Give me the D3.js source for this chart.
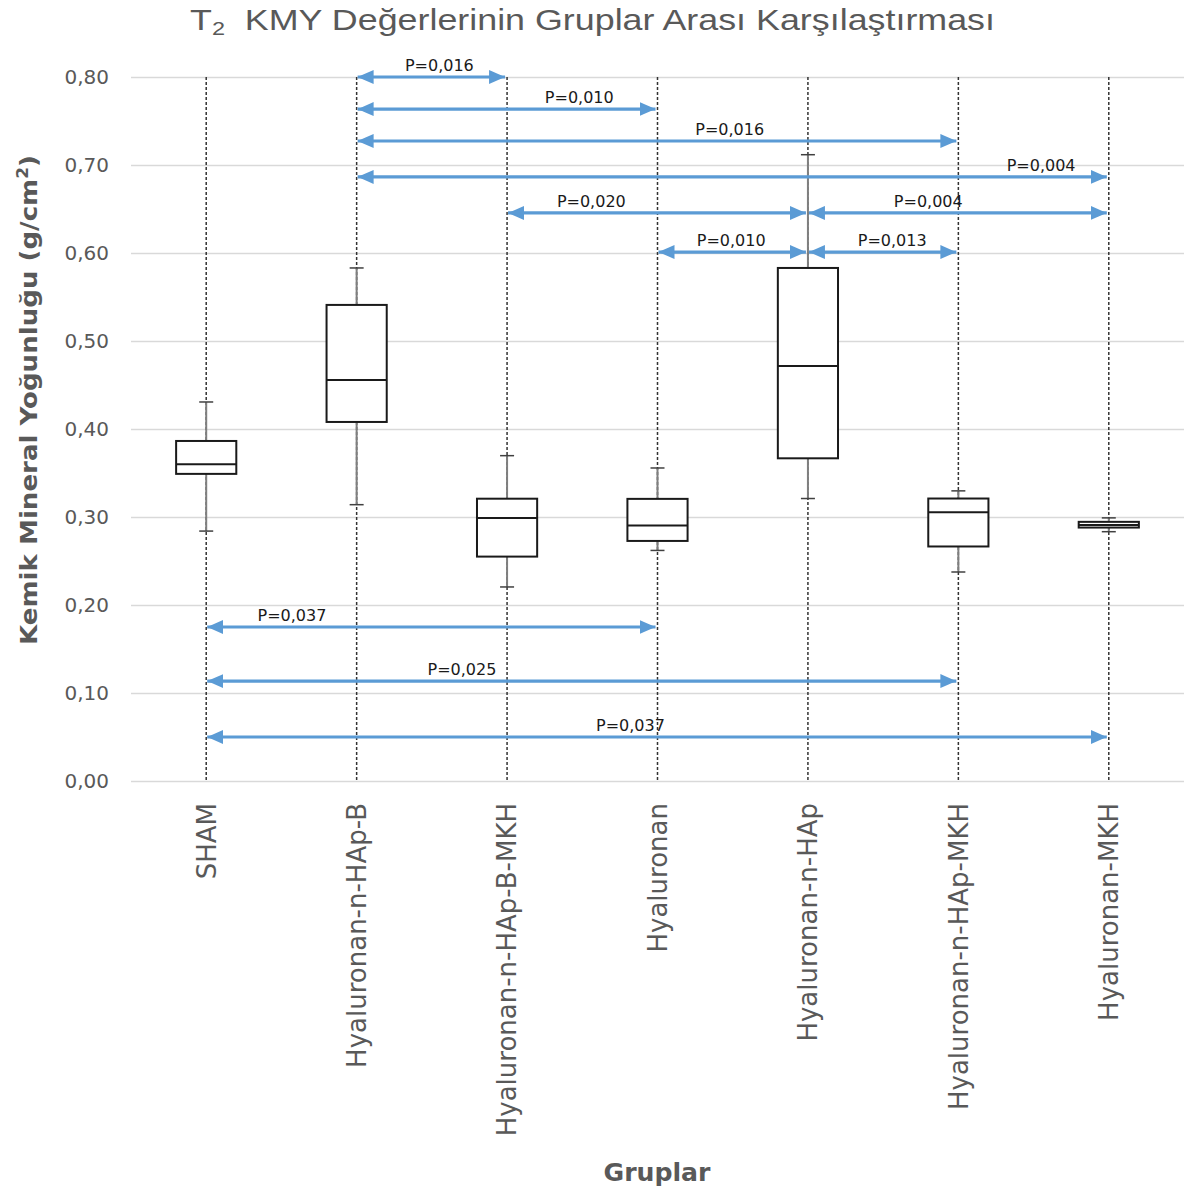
<!DOCTYPE html>
<html>
<head>
<meta charset="utf-8">
<script src="https://cdn.jsdelivr.net/npm/d3@7"></script>
<style>
  html, body { margin: 0; padding: 0; background: #fff; }
  svg { display: block; }
</style>
</head>
<body>
<svg id="chart" width="1189" height="1195"></svg>
<script>
// ---------- data ----------
const categories = ["SHAM", "Hyaluronan-n-HAp-B", "Hyaluronan-n-HAp-B-MKH", "Hyaluronan",
                    "Hyaluronan-n-HAp", "Hyaluronan-n-HAp-MKH", "Hyaluronan-MKH"];
const whiskerLow  = [0.284, 0.314, 0.2205, 0.262, 0.321, 0.2375, 0.2833];
const q1          = [0.349, 0.408, 0.255, 0.2728, 0.3667, 0.2665, 0.288];
const median      = [0.360, 0.4557, 0.299, 0.2903, 0.4716, 0.3053, 0.291];
const q3          = [0.3864, 0.541, 0.3208, 0.3206, 0.583, 0.321, 0.2945];
const whiskerHigh = [0.4307, 0.583, 0.3697, 0.3557, 0.7117, 0.3297, 0.299];

const yTicks = [0, 0.1, 0.2, 0.3, 0.4, 0.5, 0.6, 0.7, 0.8];

// pairwise comparisons (indices into categories)
const compFrom  = [1, 1, 1, 1, 2, 4, 3, 4, 0, 0, 0];
const compTo    = [2, 3, 5, 6, 4, 6, 4, 5, 3, 5, 6];
const compY     = [0.800, 0.7636, 0.7273, 0.6864, 0.6455, 0.6455, 0.6011, 0.6011, 0.175, 0.1136, 0.05];
const compLabel = ["P=0,016", "P=0,010", "P=0,016", "P=0,004", "P=0,020", "P=0,004",
                   "P=0,010", "P=0,013", "P=0,037", "P=0,025", "P=0,037"];
const compLabelAt = [0.55, 0.74, 0.62, 0.91, 0.28, 0.40, 0.49, 0.56, 0.19, 0.34, 0.47];

// ---------- layout ----------
const svg = d3.select("#chart");
const W = 1189, H = 1195;
const mLeft = 131, mRight = 1184, mTop = 77, mBottom = 781;
const textGray = "#595959";
const blue = "#5B9BD5";

svg.append("rect").attr("width", W).attr("height", H).attr("fill", "#fff");

const x = d3.scaleBand().domain(categories).range([mLeft, mRight]).padding(0);
const y = d3.scaleLinear().domain([0, 0.8]).range([mBottom, mTop]);
const cx = i => x(categories[i]) + x.bandwidth() / 2;
const boxW = x.bandwidth() * 0.4;

// y axis + gridlines
const yAxis = d3.axisLeft(y)
  .tickValues(yTicks)
  .tickSize(-(mRight - mLeft))
  .tickPadding(22)
  .tickFormat(d => d3.format(".2f")(d).replace(".", ","));
const gy = svg.append("g").attr("transform", `translate(${mLeft},0)`).call(yAxis);
gy.select(".domain").remove();
gy.selectAll(".tick line").attr("stroke", "#d9d9d9").attr("stroke-width", 1.3);
gy.selectAll(".tick text")
  .attr("fill", textGray)
  .attr("font-family", "'DejaVu Sans', Verdana, sans-serif")
  .attr("font-size", 20);

// dashed vertical lines through each category
svg.append("g").selectAll("line").data(categories).join("line")
  .attr("x1", (d, i) => cx(i)).attr("x2", (d, i) => cx(i))
  .attr("y1", y(0.8)).attr("y2", y(0))
  .attr("stroke", "#333").attr("stroke-width", 1.5)
  .attr("stroke-dasharray", "3,2");

// boxes
const gb = svg.append("g");
categories.forEach((c, i) => {
  const xc = cx(i);
  gb.append("line").attr("x1", xc).attr("x2", xc)
    .attr("y1", y(q3[i])).attr("y2", y(whiskerHigh[i]))
    .attr("stroke", "#7f7f7f").attr("stroke-width", 2);
  gb.append("line").attr("x1", xc).attr("x2", xc)
    .attr("y1", y(q1[i])).attr("y2", y(whiskerLow[i]))
    .attr("stroke", "#7f7f7f").attr("stroke-width", 2);
  [whiskerHigh[i], whiskerLow[i]].forEach(v => {
    gb.append("line").attr("x1", xc - 7).attr("x2", xc + 7)
      .attr("y1", y(v)).attr("y2", y(v))
      .attr("stroke", "#404040").attr("stroke-width", 1.5);
  });
  gb.append("rect")
    .attr("x", xc - boxW / 2).attr("width", boxW)
    .attr("y", y(q3[i])).attr("height", y(q1[i]) - y(q3[i]))
    .attr("fill", "#fff").attr("stroke", "#1a1a1a").attr("stroke-width", 2);
  gb.append("line")
    .attr("x1", xc - boxW / 2).attr("x2", xc + boxW / 2)
    .attr("y1", y(median[i])).attr("y2", y(median[i]))
    .attr("stroke", "#1a1a1a").attr("stroke-width", 2);
});

// arrows
const defs = svg.append("defs");
defs.append("marker").attr("id", "ah").attr("viewBox", "0 0 16 14")
  .attr("refX", 16).attr("refY", 7).attr("markerWidth", 16).attr("markerHeight", 14)
  .attr("markerUnits", "userSpaceOnUse").attr("orient", "auto-start-reverse")
  .append("path").attr("d", "M0,0 L16,7 L0,14 Z").attr("fill", blue);

const ga = svg.append("g");
compFrom.forEach((f, k) => {
  const x1 = cx(f) + 1, x2 = cx(compTo[k]) - 2, yy = y(compY[k]);
  ga.append("line").attr("x1", x1).attr("x2", x2).attr("y1", yy).attr("y2", yy)
    .attr("stroke", blue).attr("stroke-width", 3.2)
    .attr("marker-start", "url(#ah)").attr("marker-end", "url(#ah)");
});
compFrom.forEach((f, k) => {
  const x1 = cx(f), x2 = cx(compTo[k]), yy = y(compY[k]);
  ga.append("text")
    .attr("x", x1 + (x2 - x1) * compLabelAt[k]).attr("y", yy - 6)
    .attr("text-anchor", "middle")
    .attr("font-family", "'DejaVu Sans', Tahoma, sans-serif")
    .attr("font-size", 16).attr("fill", "#1a1a1a")
    .text(compLabel[k]);
});

// x category labels (rotated)
svg.append("g").selectAll("text").data(categories).join("text")
  .attr("transform", (d, i) => `translate(${cx(i)},803) rotate(-90)`)
  .attr("text-anchor", "end")
  .attr("dy", "0.36em")
  .attr("font-family", "'DejaVu Sans', Verdana, sans-serif")
  .attr("font-size", 26)
  .attr("fill", textGray)
  .text(d => d);

// axis titles
svg.append("text")
  .attr("transform", "translate(37,400) rotate(-90)")
  .attr("text-anchor", "middle")
  .attr("font-family", "'DejaVu Sans', Verdana, sans-serif")
  .attr("font-weight", "bold").attr("font-size", 23)
  .attr("fill", textGray)
  .attr("textLength", 490).attr("lengthAdjust", "spacingAndGlyphs")
  .call(t => {
    t.append("tspan").text("Kemik Mineral Yoğunluğu (g/cm");
    t.append("tspan").attr("baseline-shift", "super").attr("font-size", 15).text("2");
    t.append("tspan").text(")");
  });

svg.append("text")
  .attr("x", 657).attr("y", 1181)
  .attr("text-anchor", "middle")
  .attr("font-family", "'DejaVu Sans', Verdana, sans-serif")
  .attr("font-weight", "bold").attr("font-size", 24)
  .attr("fill", textGray)
  .attr("textLength", 107).attr("lengthAdjust", "spacingAndGlyphs")
  .text("Gruplar");

// chart title
svg.append("text")
  .attr("x", 190).attr("y", 30)
  .attr("font-family", "'Liberation Sans', Arial, sans-serif")
  .attr("font-size", 29)
  .attr("fill", textGray)
  .attr("textLength", 805).attr("lengthAdjust", "spacingAndGlyphs")
  .call(t => {
    t.append("tspan").text("T");
    t.append("tspan").attr("dy", 5).attr("font-size", 19).text("2");
    t.append("tspan").attr("dy", -5).text("\u00A0 KMY Değerlerinin Gruplar Arası Karşılaştırması");
  });
</script>
</body>
</html>
